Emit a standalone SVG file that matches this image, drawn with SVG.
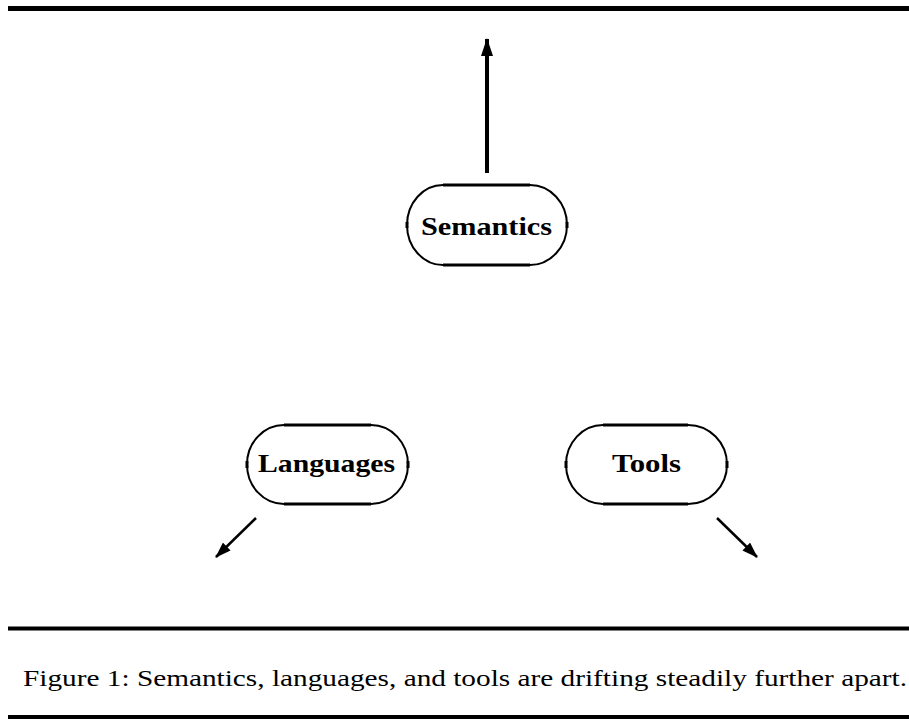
<svg xmlns="http://www.w3.org/2000/svg" width="909" height="719" viewBox="0 0 909 719">
<style>
.rule{stroke:#000;fill:none}
.arc{fill:none;stroke:#000;stroke-width:2}
.flat{stroke:#000;stroke-width:3}
.tick{stroke:#000;stroke-width:3}
.lbl{font-family:"Liberation Serif","DejaVu Serif",serif;font-weight:bold;font-size:26px;fill:#000}
.cap{font-family:"Liberation Serif","DejaVu Serif",serif;font-size:24px;fill:#000}
.conn{stroke:#000;fill:none}
</style>
<defs>
<marker id="ahb" viewBox="0 0 18 12" refX="17" refY="6" markerWidth="18" markerHeight="12" markerUnits="userSpaceOnUse" orient="auto">
<path d="M0,0 L18,6 L0,12 Z" fill="#000"/>
</marker>
<marker id="ahs" viewBox="0 0 16 11" refX="15" refY="5.5" markerWidth="16" markerHeight="11" markerUnits="userSpaceOnUse" orient="auto">
<path d="M0,0 L16,5.5 L0,11 Z" fill="#000"/>
</marker>
</defs>
<rect width="909" height="719" fill="#fff"/>
<line class="rule" x1="8" y1="8.5" x2="909" y2="8.5" stroke-width="5"/>
<line class="rule" x1="8" y1="628.5" x2="909" y2="628.5" stroke-width="4"/>
<line class="rule" x1="8" y1="717" x2="909" y2="717" stroke-width="4"/>
<g id="connectors">
<line class="conn" x1="487" y1="173" x2="487" y2="39" stroke-width="4" marker-end="url(#ahb)"/>
<line class="conn" x1="256" y1="518" x2="216" y2="557" stroke-width="2.5" marker-end="url(#ahs)"/>
<line class="conn" x1="717" y1="518" x2="757" y2="557" stroke-width="2.5" marker-end="url(#ahs)"/>
</g>
<g id="semantics">
<path class="arc" d="M443,185 A36,40 0 0 0 407,225 A36,40 0 0 0 443,265 L530,265 A37,40 0 0 0 567,225 A37,40 0 0 0 530,185 Z"/>
<line class="flat" x1="443" y1="185" x2="530" y2="185"/>
<line class="flat" x1="443" y1="265" x2="530" y2="265"/>
<line class="tick" x1="407" y1="222" x2="407" y2="228"/>
<line class="tick" x1="567" y1="222" x2="567" y2="228"/>
<text class="lbl" x="421" y="235" textLength="131" lengthAdjust="spacingAndGlyphs">Semantics</text>
</g>
<g id="languages">
<path class="arc" d="M284,425 A37,39.5 0 0 0 247,464.5 A37,39.5 0 0 0 284,504 L371,504 A37,39.5 0 0 0 408,464.5 A37,39.5 0 0 0 371,425 Z"/>
<line class="flat" x1="284" y1="425" x2="371" y2="425"/>
<line class="flat" x1="284" y1="504" x2="371" y2="504"/>
<line class="tick" x1="247" y1="461" x2="247" y2="468"/>
<line class="tick" x1="408" y1="461" x2="408" y2="468"/>
<text class="lbl" x="258" y="472" textLength="137" lengthAdjust="spacingAndGlyphs">Languages</text>
</g>
<g id="tools">
<path class="arc" d="M603,425 A37,39.5 0 0 0 566,464.5 A37,39.5 0 0 0 603,504 L688,504 A39,39.5 0 0 0 727,464.5 A39,39.5 0 0 0 688,425 Z"/>
<line class="flat" x1="603" y1="425" x2="688" y2="425"/>
<line class="flat" x1="603" y1="504" x2="688" y2="504"/>
<line class="tick" x1="566" y1="461" x2="566" y2="468"/>
<line class="tick" x1="727" y1="461" x2="727" y2="468"/>
<text class="lbl" x="612" y="472" textLength="69" lengthAdjust="spacingAndGlyphs">Tools</text>
</g>
<text class="cap" x="23" y="686" textLength="884" lengthAdjust="spacingAndGlyphs">Figure 1: Semantics, languages, and tools are drifting steadily further apart.</text>
</svg>
